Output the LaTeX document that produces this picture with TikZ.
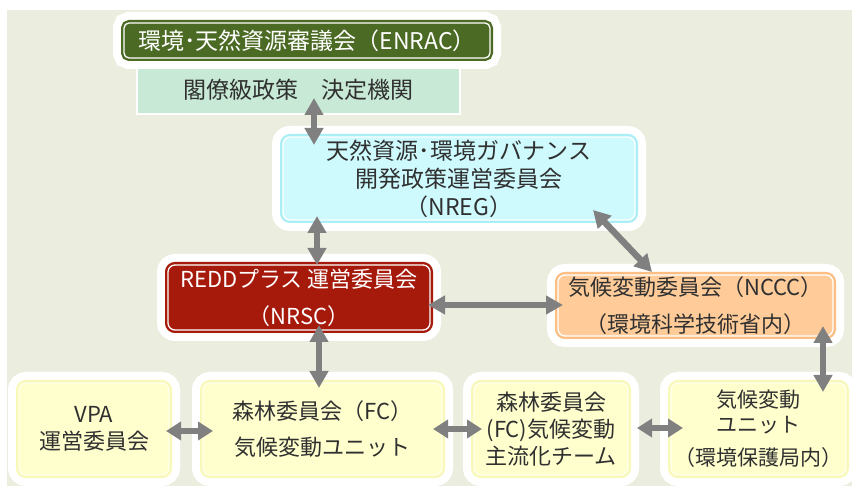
\documentclass[tikz,border=0pt]{standalone}
\usepackage{fontspec}
\setmainfont{Noto Sans CJK JP}
\usetikzlibrary{arrows.meta,calc}
\definecolor{bg}{RGB}{235,238,222}
\definecolor{dgreen}{RGB}{75,106,36}
\definecolor{lgreen}{RGB}{199,233,213}
\definecolor{cyanf}{RGB}{206,250,254}
\definecolor{cyane}{RGB}{170,238,246}
\definecolor{dred}{RGB}{166,26,12}
\definecolor{peach}{RGB}{255,204,153}
\definecolor{peache}{RGB}{252,190,130}
\definecolor{yel}{RGB}{255,255,206}
\definecolor{yele}{RGB}{248,248,185}
\definecolor{yeli}{RGB}{255,255,236}
\definecolor{agray}{RGB}{128,128,128}
\definecolor{txt}{RGB}{48,48,48}
\tikzset{
  box/.style n args={3}{rounded corners=7pt, inner sep=0pt, align=center, text=txt,
    preaction={draw=white, line width=22pt},
    preaction={draw=#2, line width=6pt},
    fill=#1, postaction={draw=#3, line width=1.3pt}},
  fnt/.style={font=\fontsize{22}{#1}\selectfont},
  dbl/.style={draw=agray, line width=6.5pt,
    {Triangle[length=17pt,width=18pt]}-{Triangle[length=17pt,width=18pt]}},
  dbls/.style={draw=agray, line width=6.5pt,
    {Triangle[length=15pt,width=18pt]}-{Triangle[length=15pt,width=18pt]}}
}
\begin{document}
\begin{tikzpicture}[x=1pt,y=-1pt]
\useasboundingbox (0,0) rectangle (852,486);
\fill[bg] (7,10) rectangle (852,486);

% top
\node[fill=lgreen, draw=white, line width=2pt, minimum width=323pt, minimum height=48pt,
  inner sep=0pt, text=txt, font=\fontsize{23}{28}\selectfont] (kaku) at (298.5,90) {閣僚級政策　決定機関};
\node[box={dgreen}{dgreen}{white}, rounded corners=5pt, minimum width=366pt, minimum height=35pt,
  text=white, font=\fontsize{23}{28}\selectfont] (enrac) at (307,40.5) {環境･天然資源審議会（ENRAC）};

\node[box={cyanf}{cyane}{white}, minimum width=352pt, minimum height=83pt, font=\fontsize{23}{28}\selectfont] (nreg) at (459,178.5)
  {天然資源･環境ガバナンス\\開発政策運営委員会\\（NREG）};

\node[box={dred}{dred}{white}, minimum width=262pt, minimum height=65pt, text=white, fnt=37] (nrsc) at (299,297.5)
  {REDDプラス 運営委員会\\（NRSC）};

\node[box={peach}{peache}{white}, minimum width=275pt, minimum height=61pt, fnt=37] (nccc) at (695.5,305.5)
  {気候変動委員会（NCCC）\\（環境科学技術省内）};

% bottom
\node[box={yel}{yele}{yeli}, minimum width=150pt, minimum height=92pt, fnt=27] (vpa) at (94,429)
  {VPA\\運営委員会};
\node[box={yel}{yele}{yeli}, minimum width=239pt, minimum height=92pt, fnt=36] (fc) at (322.5,429)
  {森林委員会（FC）\\気候変動ユニット};
\node[box={yel}{yele}{yeli}, minimum width=154pt, minimum height=92pt, fnt=27] (fcm) at (551,429)
  {森林委員会\\(FC)気候変動\\主流化チーム};
\node[box={yel}{yele}{yeli}, minimum width=175pt, minimum height=92pt, font=\fontsize{21}{25}\selectfont] (unit) at (758.5,429)
  {気候変動\\ユニット\\[8pt]（環境保護局内）};

% connectors
\draw[dbl] ($(kaku.center)+(15.5,8)$) -- ($(nreg.center)+(-145,-33.5)$);
\draw[dbl] ($(nreg.center)+(-142,37.5)$) -- ($(nrsc.center)+(18,-32.5)$);
\draw[dbl] ($(nrsc.center)+(20,27.5)$) -- ($(fc.center)+(-3.5,-41)$);
\draw[dbl] ($(nrsc.center)+(129,7.5)$) -- ($(nccc.center)+(-132.5,-0.5)$);
\draw[dbl] ($(nreg.center)+(134,31.5)$) -- ($(nccc.center)+(-43.5,-33.5)$);
\draw[dbl] ($(nccc.center)+(127.5,20.5)$) -- ($(unit.center)+(64.5,-37)$);
\draw[dbls] ($(vpa.center)+(72,2)$) -- ($(fc.center)+(-109.5,2)$);
\draw[dbls] ($(fc.center)+(110.5,0)$) -- ($(fcm.center)+(-69,0)$);
\draw[dbls] ($(fcm.center)+(86,-1)$) -- ($(unit.center)+(-75.5,-1)$);
\end{tikzpicture}
\end{document}
